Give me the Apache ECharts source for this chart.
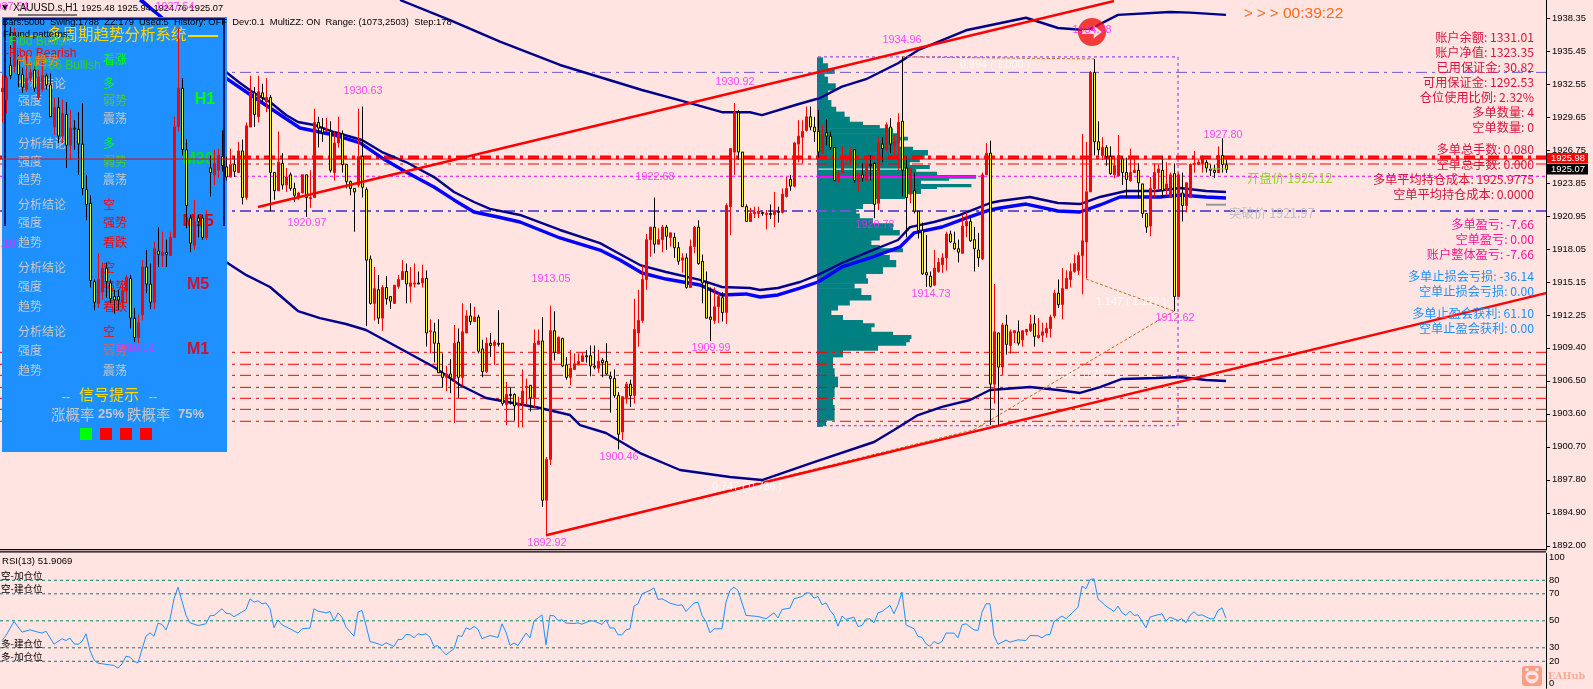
<!DOCTYPE html>
<html>
<head>
<meta charset="utf-8">
<title>XAUUSD.s,H1</title>
<style>html,body{margin:0;padding:0;background:#FFE4E1}#c{width:1593px;height:689px}</style>
<script src="https://cdn.jsdelivr.net/npm/echarts@6/dist/echarts.min.js"></script>
</head>
<body>
<div id="c"></div>
<script>
// ---- candles (index 0..306), prices ----
const opens=[
1931.9,1931.2,1934.2,1934.1,1934.7,1933.4,1932.1,1933.1,1933.8,1931.4,
1932.1,1933.3,1932.5,1928.8,1930.5,1928.0,1929.9,1927.2,1928.7,1928.6,
1927.3,1923.3,1922.1,1915.2,1913.3,1914.3,1916.4,1915.1,1913.9,1913.9,
1913.4,1914.4,1915.5,1912.0,1910.3,1912.3,1916.5,1915.0,1913.4,1917.9,
1917.5,1917.8,1917.5,1919.1,1928.8,1932.2,1926.8,1920.8,1918.4,1920.8,
1920.8,1919.1,1925.2,1924.6,1925.0,1926.2,1925.3,1924.4,1925.5,1924.8,
1926.7,1922.6,1928.8,1931.8,1929.7,1931.8,1931.0,1931.4,1924.8,1923.2,
1925.6,1923.7,1924.6,1923.4,1922.6,1923.0,1924.6,1922.5,1922.6,1929.2,
1928.7,1928.4,1928.4,1924.8,1927.4,1928.2,1925.5,1924.0,1923.4,1923.7,
1926.2,1923.3,1917.2,1913.3,1914.5,1912.0,1914.7,1913.9,1913.3,1914.8,
1915.4,1916.1,1914.8,1915.0,1915.1,1915.1,1915.5,1910.8,1910.8,1909.8,
1907.2,1906.8,1907.1,1906.7,1909.9,1906.8,1910.7,1912.2,1911.7,1912.1,
1909.3,1907.3,1909.8,1909.6,1909.8,1909.8,1904.4,1905.3,1905.3,1904.3,
1904.5,1905.9,1906.1,1905.0,1909.7,1910.0,1896.0,1899.6,1910.9,1908.9,
1910.2,1907.9,1906.8,1907.5,1907.9,1908.2,1908.7,1908.7,1907.8,1907.6,
1908.3,1908.2,1906.9,1906.7,1905.2,1902.0,1905.0,1906.2,1905.2,1910.7,
1911.8,1915.4,1918.9,1920.0,1918.5,1918.9,1920.0,1919.1,1919.1,1918.2,
1917.1,1917.3,1914.7,1918.3,1920.0,1917.0,1915.1,1912.1,1911.8,1913.0,
1913.8,1912.5,1921.8,1926.6,1930.1,1926.6,1921.8,1920.5,1921.2,1921.2,
1921.3,1921.1,1921.2,1921.1,1921.4,1921.3,1922.7,1924.2,1923.6,1927.3,
1927.9,1928.5,1929.7,1928.8,1928.4,1926.5,1928.3,1928.0,1927.0,1924.0,
1924.8,1925.9,1925.8,1926.8,1924.0,1924.6,1924.1,1925.5,1925.6,1922.1,
1927.3,1926.8,1928.8,1927.2,1927.4,1929.3,1925.2,1922.9,1923.2,1921.4,
1919.7,1916.0,1915.7,1914.9,1916.1,1916.7,1917.3,1919.4,1918.6,1918.1,
1917.7,1920.1,1920.5,1918.9,1918.0,1917.2,1924.6,1926.5,1906.2,1910.7,
1907.7,1911.4,1909.6,1910.7,1910.8,1910.1,1910.8,1910.9,1911.5,1910.3,
1910.5,1910.7,1911.1,1912.2,1914.2,1913.2,1914.6,1915.4,1916.1,1916.2,
1917.5,1918.7,1923.1,1933.6,1927.5,1926.3,1927.0,1926.2,1924.6,1924.5,
1926.0,1924.8,1924.1,1924.8,1925.0,1923.8,1921.2,1920.1,1923.4,1924.8,
1925.0,1923.3,1922.6,1924.7,1913.9,1923.0,1921.9,1922.6,1925.5,1925.5,
1925.6,1925.7,1925.1,1925.0,1924.8,1926.3,1925.48];
const closes=[
1932.2,1933.1,1933.3,1937.1,1933.4,1932.3,1933.1,1933.6,1932.2,1933.2,
1933.3,1932.5,1929.7,1930.5,1928.0,1930.0,1927.2,1928.7,1928.6,1927.3,
1923.4,1922.0,1915.3,1913.4,1915.4,1916.4,1915.2,1913.7,1913.6,1913.6,
1914.4,1915.6,1912.0,1910.3,1911.6,1916.5,1915.0,1913.4,1918.1,1917.6,
1917.8,1917.6,1919.1,1928.8,1932.2,1926.8,1921.9,1918.6,1920.5,1920.5,
1919.1,1921.1,1924.8,1925.6,1926.3,1925.4,1924.4,1925.5,1924.9,1926.7,
1922.6,1928.9,1931.8,1929.9,1931.9,1931.4,1931.4,1924.8,1923.2,1925.7,
1923.7,1924.4,1923.4,1922.8,1923.0,1924.6,1922.6,1922.6,1929.2,1928.7,
1928.3,1928.5,1925.0,1927.4,1928.2,1925.5,1924.0,1923.4,1923.1,1926.2,
1923.5,1917.1,1913.3,1914.6,1912.0,1914.7,1913.7,1913.5,1914.9,1915.4,
1916.1,1915.0,1915.1,1915.1,1915.0,1915.5,1910.7,1910.9,1909.8,1907.2,
1906.8,1907.1,1906.8,1909.8,1906.8,1910.8,1912.2,1911.7,1912.1,1909.1,
1907.3,1909.8,1909.6,1909.9,1909.7,1904.5,1905.3,1905.2,1904.3,1904.5,
1905.6,1906.0,1905.0,1909.8,1910.0,1896.0,1899.6,1910.9,1909.0,1910.3,
1907.8,1906.8,1907.6,1908.0,1908.2,1908.7,1908.6,1907.8,1907.7,1908.2,
1908.1,1907.1,1906.7,1905.2,1901.8,1905.1,1906.2,1905.2,1911.0,1911.8,
1915.4,1918.9,1920.0,1918.5,1918.9,1920.0,1919.2,1919.5,1918.2,1917.0,
1917.3,1914.7,1918.3,1920.0,1916.8,1915.1,1912.0,1911.9,1913.0,1913.9,
1912.5,1921.9,1926.9,1930.1,1926.6,1921.8,1920.5,1921.2,1921.3,1921.4,
1921.2,1921.2,1921.1,1921.4,1921.3,1922.9,1923.4,1923.6,1927.4,1928.0,
1928.4,1929.7,1928.8,1928.4,1926.6,1928.2,1928.0,1927.0,1924.1,1924.8,
1926.2,1926.3,1926.6,1924.1,1924.7,1924.3,1925.6,1925.4,1922.0,1927.4,
1926.9,1929.0,1927.3,1927.5,1929.2,1925.0,1922.6,1925.2,1921.4,1919.7,
1915.9,1915.8,1914.8,1916.4,1916.9,1917.3,1919.4,1918.7,1918.1,1917.8,
1920.1,1920.5,1918.8,1918.1,1917.3,1924.6,1926.5,1906.2,1910.8,1907.7,
1911.4,1909.7,1910.8,1910.9,1909.8,1910.9,1911.0,1911.5,1910.4,1910.5,
1910.8,1911.1,1912.1,1914.2,1913.2,1914.6,1915.5,1916.1,1916.8,1917.5,
1918.8,1923.1,1933.6,1927.5,1926.8,1927.0,1926.2,1924.7,1925.4,1926.3,
1924.8,1924.2,1924.8,1925.0,1923.9,1921.2,1920.0,1923.4,1924.8,1925.1,
1923.2,1923.8,1924.6,1913.9,1924.6,1921.9,1923.9,1925.5,1925.6,1925.7,
1926.2,1925.2,1925.0,1924.8,1926.3,1925.5,1925.07];
const lows=[
1929.2,1930.0,1933.0,1933.6,1932.3,1931.8,1931.9,1932.8,1931.9,1931.2,
1931.9,1932.1,1929.7,1928.1,1927.4,1927.4,1925.2,1925.9,1926.8,1924.6,
1922.8,1920.6,1914.7,1912.7,1912.9,1913.6,1913.8,1913.3,1912.4,1912.7,
1912.9,1913.3,1911.1,1909.9,1909.8,1911.8,1914.2,1912.8,1912.8,1916.5,
1916.5,1916.5,1917.5,1919.1,1928.4,1926.3,1919.9,1917.8,1918.0,1919.1,
1918.9,1918.9,1922.7,1923.7,1924.3,1924.9,1924.1,1924.4,1924.4,1924.8,
1922.0,1922.4,1928.8,1928.8,1929.2,1931.0,1930.1,1921.4,1922.4,1923.2,
1923.3,1923.1,1923.2,1922.2,1922.4,1923.0,1920.9,1921.7,1922.6,1927.0,
1927.5,1928.4,1924.8,1924.1,1927.0,1924.8,1923.4,1922.8,1919.6,1923.5,
1922.6,1911.3,1913.2,1911.8,1911.5,1910.9,1913.2,1912.8,1913.3,1914.6,
1915.4,1913.3,1913.4,1914.7,1915.0,1914.7,1909.5,1908.9,1908.1,1907.2,
1905.9,1905.6,1905.4,1902.8,1905.0,1906.0,1910.7,1911.4,1911.7,1908.9,
1906.8,1907.2,1908.6,1907.9,1909.5,1904.3,1902.6,1904.4,1903.0,1902.4,
1902.4,1904.4,1903.8,1904.2,1909.7,1895.4,1892.92,1899.1,1908.3,1908.9,
1907.7,1906.6,1906.1,1907.5,1907.9,1908.2,1908.1,1906.9,1907.5,1907.2,
1906.8,1907.0,1903.7,1905.0,1900.46,1901.3,1904.5,1904.2,1904.5,1909.5,
1911.6,1914.5,1917.4,1917.7,1918.5,1917.8,1918.0,1918.3,1917.3,1916.7,
1916.0,1914.6,1914.7,1917.7,1916.7,1913.3,1912.0,1909.99,1911.5,1911.6,
1911.7,1911.5,1919.3,1924.6,1925.9,1921.8,1920.5,1920.5,1920.8,1920.8,
1921.0,1919.8,1920.7,1920.0,1920.4,1921.2,1922.6,1923.2,1923.5,1925.7,
1925.6,1928.4,1928.5,1927.5,1926.1,1926.4,1927.2,1926.8,1924.0,1923.9,
1924.8,1925.7,1925.5,1923.9,1923.1,1924.0,1924.1,1924.1,1920.78,1921.5,
1925.7,1926.6,1926.5,1926.2,1925.0,1922.7,1919.1,1922.1,1921.2,1919.0,
1915.8,1914.73,1914.7,1914.9,1916.0,1916.0,1916.2,1918.6,1918.0,1916.9,
1917.7,1919.1,1918.7,1916.1,1916.5,1917.1,1924.6,1902.6,1904.5,1902.6,
1907.0,1908.8,1908.9,1909.8,1909.6,1909.5,1910.5,1910.8,1909.5,1910.2,
1909.9,1910.3,1910.3,1912.0,1912.9,1911.9,1914.6,1914.7,1916.0,1915.8,
1914.1,1915.5,1923.1,1926.3,1926.3,1925.9,1925.4,1924.6,1924.3,1924.5,
1923.7,1922.6,1924.0,1924.8,1922.5,1920.8,1919.5,1919.2,1922.6,1923.3,
1922.6,1922.8,1922.6,1912.62,1913.9,1920.5,1921.3,1922.6,1924.8,1925.5,
1924.8,1924.8,1924.5,1924.3,1924.8,1924.8,1924.76];
const highs=[
1933.4,1933.3,1937.6,1937.5,1935.1,1934.0,1935.1,1934.5,1934.2,1933.8,
1934.7,1933.5,1933.5,1931.4,1931.4,1931.2,1931.0,1930.3,1929.4,1930.1,
1930.9,1924.6,1922.8,1915.4,1917.7,1916.9,1916.9,1915.4,1914.5,1914.5,
1914.9,1915.8,1915.8,1912.9,1912.3,1917.1,1918.0,1916.8,1918.7,1920.0,
1919.6,1918.9,1919.6,1929.7,1937.5,1933.1,1927.7,1921.1,1922.4,1921.1,
1921.1,1921.5,1926.3,1926.8,1926.9,1928.5,1926.2,1926.9,1926.2,1927.5,
1927.7,1929.2,1933.3,1932.3,1933.3,1932.6,1933.1,1931.6,1924.8,1928.4,
1926.5,1925.2,1924.8,1923.9,1923.1,1924.6,1924.6,1925.0,1930.4,1929.7,
1929.6,1929.6,1929.3,1928.4,1929.7,1928.5,1925.5,1924.1,1923.4,1930.4,
1930.6,1923.5,1917.5,1916.5,1915.8,1914.9,1915.7,1913.9,1914.9,1915.8,
1917.1,1916.8,1916.5,1916.8,1916.1,1916.7,1916.2,1911.9,1911.6,1911.9,
1908.9,1907.8,1908.4,1911.4,1911.1,1913.3,1912.7,1913.3,1913.0,1912.3,
1910.1,1910.3,1910.7,1910.1,1912.7,1909.8,1906.4,1905.9,1905.4,1905.1,
1907.5,1906.7,1906.1,1911.0,1911.0,1912.1,1899.8,1913.1,1912.6,1910.4,
1910.3,1908.6,1909.2,1908.9,1908.9,1909.0,1909.2,1909.6,1909.6,1909.2,
1908.5,1909.8,1907.3,1907.5,1905.5,1905.1,1906.4,1906.6,1913.7,1914.5,
1916.7,1919.4,1920.0,1922.6,1919.9,1920.2,1920.2,1919.5,1919.5,1918.7,
1917.7,1917.7,1918.9,1920.1,1920.6,1917.6,1916.1,1914.7,1914.7,1914.2,
1914.3,1922.1,1926.9,1930.9,1930.3,1926.6,1922.0,1921.7,1921.8,1921.8,
1921.3,1921.5,1922.0,1923.1,1921.8,1923.4,1924.4,1924.6,1927.5,1929.4,
1929.4,1930.6,1930.6,1929.7,1930.3,1929.0,1929.5,1928.4,1927.0,1924.9,
1927.1,1926.3,1927.0,1926.8,1924.8,1925.6,1926.2,1926.3,1925.7,1927.9,
1927.9,1929.2,1929.6,1928.1,1930.0,1934.96,1926.2,1925.2,1924.8,1921.4,
1920.4,1919.3,1916.1,1918.0,1917.3,1917.7,1919.6,1919.7,1919.6,1918.9,
1921.1,1921.3,1920.9,1920.0,1919.5,1924.8,1927.4,1927.6,1915.0,1910.7,
1911.6,1912.3,1911.0,1910.9,1911.8,1910.9,1911.0,1912.3,1912.3,1912.0,
1911.6,1911.6,1912.3,1914.5,1915.4,1916.4,1916.2,1916.8,1917.6,1917.8,
1928.2,1927.5,1933.7,1934.78,1929.3,1927.9,1927.2,1927.1,1926.2,1928.1,
1926.2,1926.1,1926.9,1926.1,1925.6,1923.8,1921.2,1924.4,1925.6,1925.5,
1926.2,1925.7,1924.8,1925.6,1924.8,1924.8,1923.9,1925.6,1926.7,1925.9,
1926.3,1925.9,1925.5,1925.5,1927.1,1927.80,1925.94];

// ---- bands: [bar index, price] ----
const upperBand=[[99.5,1939.96],[112,1938.2],[124.5,1936.3],[139.5,1934.25],[160,1932.05],[170,1931.1],[180,1930.1],[187,1930.1],[190,1929.85],[199,1930.8],[204.5,1931.35],[210,1932.35],[216,1933.0],[224,1934.4],[229,1935.55],[241,1937.3],[256,1938.4],[264,1937.5],[271.5,1937.3],[279,1938.65],[292,1938.9],[297,1938.85],[306,1938.65]];
const midNavy=[[35,1939.96],[40,1938.4],[56,1933.63],[59.5,1932.67],[63,1931.79],[67,1931.0],[71,1929.85],[74,1929.24],[78,1928.98],[83,1928.36],[90,1927.66],[95,1926.6],[101,1925.72],[108,1924.4],[113,1923.09],[118,1922.21],[122,1921.6],[129.5,1921.07],[139.5,1919.75],[149.5,1918.6],[154,1917.73],[159.5,1916.67],[166,1916.06],[174.5,1915.36],[180,1914.74],[187,1914.65],[189.5,1914.48],[194,1914.65],[199.5,1915.18],[204,1915.8],[210,1916.85],[216,1917.73],[224,1918.87],[227,1920.0],[233,1920.45],[239.5,1921.07],[247,1922.12],[249.5,1922.3],[257,1922.65],[264,1922.12],[269.5,1922.03],[274.5,1922.65],[281,1923.18],[288.5,1923.18],[294.5,1923.44],[301,1923.18],[306,1923.09]];
const midBlue=[[34.5,1939.96],[39.5,1938.55],[56,1933.1],[61,1931.9],[67,1930.47],[74.5,1928.71],[83,1928.1],[89.5,1927.4],[95,1926.08],[101,1924.85],[108,1923.53],[113,1922.39],[118,1921.33],[124,1920.89],[129.5,1920.45],[139.5,1919.05],[149.5,1917.99],[154.5,1917.11],[160,1915.97],[166,1915.44],[174.5,1914.92],[180,1914.04],[186,1914.13],[189.5,1913.86],[194,1914.04],[199.5,1914.65],[204,1915.18],[210,1916.5],[217,1917.29],[224.5,1918.26],[228,1919.49],[235,1920.01],[241,1920.8],[247,1921.51],[249.5,1921.68],[256,1922.03],[264,1921.42],[269.5,1921.33],[274.5,1921.95],[279.5,1922.65],[289.5,1922.65],[294.5,1922.83],[301,1922.65],[306,1922.56]];
const lowerBand=[[56,1916.94],[61,1915.8],[67,1914.74],[74,1912.63],[79.5,1912.0],[86,1911.49],[91,1910.96],[97,1909.82],[108,1907.71],[114.5,1906.13],[121,1904.99],[134.5,1904.11],[142,1903.49],[144.5,1902.6],[151,1901.91],[159.5,1900.15],[169.5,1898.66],[182,1898.05],[190,1897.78],[203,1899.36],[218,1901.12],[223,1902.18],[229,1903.49],[235,1904.2],[242,1904.81],[247,1905.69],[257,1905.95],[264,1905.69],[269.5,1905.43],[274.5,1905.95],[280,1906.66],[288.5,1906.75],[294.5,1906.83],[301,1906.57],[306,1906.48]];

// ---- trend lines and fibonacci legs ----
const upperTrend=[[64,1921.77],[278,1939.87]];
const lowerTrend=[[136,1892.92],[386,1914.2]];
const fibLegs=[
 [[225,1934.96],[273,1934.78]],
 [[271,1915.44],[293,1912.62]],
 [[243,1902.2],[293,1912.62]],
 [[136,1892.92],[243,1902.2]]];
const profileBox=[[204,1934.96],[294,1934.96],[294,1902.55],[204,1902.55],[204,1934.96]];

// ---- horizontal levels ----
const redLevels=[1909.0,1907.95,1906.98,1905.92,1904.96,1903.99,1902.94];
const redTopLevels=[1926.2,1926.05,1925.55];
const slateLevelThin=1933.6, slateLevelThick=1921.42, magentaLevel=1924.47;
const askPrice=1925.98, bidPrice=1925.07;
const openPrice=1925.12, breakPrice=1921.97;

// ---- volume profile: level price and its length in bars ----
const profilePrices=[1934.92,1934.4,1933.96,1933.52,1933.22,1932.64,1932.05,1931.17,1930.58,1930.15,1929.71,1929.27,1928.98,1928.69,1928.25,1927.95,1927.66,1927.07,1926.78,1926.34,1926.05,1925.75,1925.46,1925.17,1924.87,1924.58,1924.3,1924.14,1923.8,1923.55,1923.41,1922.97,1922.53,1922.09,1921.65,1921.21,1920.78,1920.34,1919.75,1919.31,1918.87,1918.43,1918.14,1917.84,1917.55,1917.11,1916.52,1915.94,1915.5,1915.07,1914.63,1914.04,1913.6,1913.16,1912.72,1912.28,1911.84,1911.55,1911.25,1910.81,1910.52,1910.23,1909.93,1909.64,1909.2,1908.61,1908.18,1907.6,1907.16,1906.86,1905.98,1905.1,1904.37,1903.64,1903.05,1902.6];
const profileVolumes=[1.5,2.75,4.4,1.9,2.75,4.7,2.75,3.6,4.8,6.9,8.2,11.5,15.7,19,20.7,22.75,20.7,24,27.75,26.9,25.7,23.2,28.2,24.8,30,39.8,33,26,38.6,30,26,22,14.8,11.5,9.8,10.7,14,19,20.7,15.7,13.6,15.7,21.5,16.5,18.2,19.8,16.5,12.3,12.75,9.4,11.1,13.6,8.2,5.25,3.6,6.5,11.5,14.4,13.6,19,23.6,23.2,22.3,15.25,6.5,4,4,4.4,4.4,5.25,4.4,4,4.4,4.4,2.3,1.5];

// ---- RSI(13) ----
const rsiIndex=[0,1,3,5,7,9,10,11,13,15,16,17,18,19,20,21,22,23,24,28,29,30,31,32,33,34,36,37,38,39,40,41,42,43,44,46,47,49,51,52,53,55,56,57,58,61,62,63,64,65,66,67,68,69,70,72,74,75,77,78,79,81,82,83,84,85,86,88,89,90,91,92,94,95,96,98,99,100,101,102,103,104,105,106,107,108,109,110,111,113,114,115,116,117,118,119,120,122,124,125,126,127,128,129,131,
132,133,134,135,136,137,138,139,140,141,143,144,145,147,148,150,151,152,153,154,155,156,157,158,159,160,162,163,164,165,167,169,170,171,173,174,175,176,177,178,180,181,182,183,184,186,189,191,193,194,195,197,198,200,201,202,203,204,205,206,207,208,209,210,211,213,214,215,216,217,218,219,220,222,223,224,225,226,228,229,230,231,232,233,234,235,236,238,239,240,241,243,244,245,246,247,248,249,251,252,254,256,257,259,260,261,262,263,264,
265,266,269,270,271,272,273,274,276,278,279,280,281,282,283,284,286,287,288,290,291,292,294,295,296,297,298,299,300,302,303,304,305,306];
const rsiValues=[35.4,39.1,49.5,41.6,43.3,41.6,40.9,42.3,32.7,36.7,35.4,37.2,33.0,32.5,34.7,40.4,28.0,21.1,18.6,16.9,14.9,18.1,23.8,23.1,19.9,18.9,38.6,41.1,38.6,48.3,47.3,43.3,51.0,66.3,74.9,54.0,48.5,46.5,47.8,53.7,54.0,58.9,55.7,55.2,53.0,58.4,66.3,63.8,64.8,62.6,63.3,58.9,44.8,50.7,47.0,44.1,40.9,44.1,44.6,58.9,57.2,55.9,56.9,50.0,55.9,52.7,45.3,38.6,56.4,57.7,46.5,34.7,33.0,31.7,33.7,31.0,36.2,36.2,39.9,39.6,37.4,40.4,39.6,40.4,37.9,31.0,31.5,28.0,24.8,29.3,39.1,38.4,44.8,43.6,45.8,43.6,36.7,39.1,37.7,47.8,41.6,31.7,33.5,31.7,40.9,
37.4,50.0,52.0,54.4,32.2,54.0,53.7,50.2,50.7,48.3,48.0,48.5,47.5,50.0,49.8,47.3,50.7,44.6,44.8,39.6,39.6,43.3,44.1,60.9,62.6,70.0,72.5,74.4,65.8,66.3,63.1,61.4,61.9,56.9,63.1,63.8,54.0,49.5,41.1,44.1,44.1,63.8,72.5,74.9,72.5,54.0,53.2,51.5,55.9,52.2,58.4,59.4,66.3,68.0,70.7,70.5,66.8,68.0,61.9,63.3,57.7,54.0,46.0,53.5,51.0,52.7,45.8,46.5,51.2,51.5,48.5,55.9,56.9,61.4,55.2,61.9,71.2,47.0,44.1,38.4,37.7,33.0,31.0,34.7,33.0,34.7,40.9,40.9,37.4,47.0,47.8,43.3,42.8,56.4,62.6,62.6,39.1,32.5,35.7,34.2,35.9,35.4,39.1,38.9,37.4,39.6,39.9,49.5,51.5,
53.5,51.5,60.1,75.7,73.7,80.6,81.1,66.3,60.9,56.9,60.9,55.9,54.0,57.2,54.0,54.4,44.8,52.7,53.7,55.2,49.8,52.7,50.2,51.5,48.5,54.0,56.7,54.0,54.4,51.5,51.5,57.7,59.6,51.9];
const rsiLevels=[80,70,50,30,20];

// ---- axis ticks ----
const priceTicks=[1938.35,1935.45,1932.55,1929.65,1926.75,1923.85,1920.95,1918.05,1915.15,1912.25,1909.40,1906.50,1903.60,1900.70,1897.80,1894.90,1892.00];
const rsiTicks=[0,20,30,50,70,80,100];
const slotCount=387;
const categories=Array.from({length:slotCount},(_,i)=>String(i));

// ---- zigzag and fibonacci texts: [bar index, price, text] ----
const zigzagLabels=[[1.75,1939.34,'1937.54'],[43.25,1939.34,'1937.54'],[225,1936.45,'1934.96'],[183.25,1932.75,'1930.92'],[90.25,1931.96,'1930.63'],[163.25,1924.41,'1922.68'],[76.25,1920.36,'1920.97'],[218.25,1920.19,'1920.78'],[137.25,1915.44,'1913.05'],[232.25,1914.13,'1914.73'],[293.25,1912.02,'1912.62'],[33.25,1909.38,'1910.02'],[177.25,1909.38,'1909.99'],[154.25,1899.80,'1900.46'],[136.25,1892.24,'1892.92'],[305.25,1928.1,'1927.80'],[-1.5,1918.52,'1921.10'],[272.5,1937.32,'1934.78']];
const fibLabels=[[248.25,1934.25,'0.994 ( 1.000 )'],[282.25,1913.42,'1.147 ( 1.127 )'],[270,1907.0,'0.689 ( 0.707 )'],[186.25,1897.17,'0.747 ( 0.786 )']];
const signalPoint=[272.5,1937.15];

// ---- texts ----
const accountRows=[
 ['账户余额: 1331.01',37,'#DC143C'],['账户净值: 1323.35',52,'#DC143C'],['已用保证金: 30.82',67,'#DC143C'],['可用保证金: 1292.53',82,'#DC143C'],['仓位使用比例: 2.32%',97,'#DC143C'],['多单数量: 4',112,'#DC143C'],['空单数量: 0',127,'#DC143C'],
 ['多单总手数: 0.080',149,'#DC143C'],['空单总手数: 0.000',164,'#DC143C'],['多单平均持仓成本: 1925.9775',179,'#DC143C'],['空单平均持仓成本: 0.0000',194,'#DC143C'],
 ['多单盈亏: -7.66',224,'#FF1493'],['空单盈亏: 0.00',239,'#FF1493'],['账户整体盈亏: -7.66',254,'#FF1493'],
 ['多单止损会亏损: -36.14',276.5,'#1E90FF'],['空单止损会亏损: 0.00',291,'#1E90FF'],['多单止盈会获利: 61.10',313,'#1E90FF'],['空单止盈会获利: 0.00',328,'#1E90FF']];
const panelRows=[
 ['分析结论',83,'多','#00FF00'],['强度',100,'弱势','#55C832'],['趋势',118,'震荡','#C8C8C8'],
 ['分析结论',143,'多','#00FF00'],['强度',161,'弱势','#55C832'],['趋势',179,'震荡','#C8C8C8'],
 ['分析结论',204,'空','#FF0000'],['强度',222,'强势','#FF0000'],['趋势',242,'看跌','#FF0000'],
 ['分析结论',267,'空','#FF0000'],['强度',286,'强势','#FF0000'],['趋势',306,'看跌','#FF0000'],
 ['分析结论',331,'空','#FF0000'],['强度',350,'弱势','#F06040'],['趋势',370,'震荡','#C8C8C8']];
const frameLabels=[['H1',205,100,'#00FF00'],['M30',198,160,'#00E020'],['M15',198,222,'#E00000'],['M5',198,285,'#D01030'],['M1',198,350,'#D01030']];

const MONO='"Noto Sans CJK SC","Liberation Sans",sans-serif';
const SANS='"Liberation Sans",sans-serif';
const PANEL_Z=3, TEXT_Z=8;

function txt(text,x,y,fill,font,align,z){
  return {type:'text',z:z===undefined?TEXT_Z:z,silent:true,style:{text:text,x:x,y:y,fill:fill,font:font,align:align||'left',verticalAlign:'middle',textAlign:align||'left',textVerticalAlign:'middle'}};
}
function box(x,y,w,h,fill,z){
  return {type:'rect',z:z===undefined?PANEL_Z:z,silent:true,shape:{x:x,y:y,width:w,height:h},style:{fill:fill}};
}

const elements=[];
// left panel
elements.push(box(2,17,225,435,'#1E90FF',PANEL_Z));
elements.push(box(3,18,222,2,'#0A1A70',PANEL_Z+0.1));
elements.push(box(4,18,2,208,'#0A1A70',PANEL_Z+0.1));
elements.push(box(223,18,2,208,'#0A1A70',PANEL_Z+0.1));
elements.push(box(18,14,59,2,'#777777',PANEL_Z+0.1));
elements.push(box(22,35,24,2,'#D8B400',PANEL_Z+0.1));
elements.push(box(188,35,30,2,'#FFD700',PANEL_Z+0.1));
elements.push(txt('多周期趋势分析系统',47,34,'#FFD700','15.5px '+MONO,'left',PANEL_Z+0.2));
elements.push(txt('看涨',103,59,'#00FF00','12px '+MONO,'left',PANEL_Z+0.2));
panelRows.forEach(r=>{
  elements.push(txt(r[0],18,r[1],'#C8C8C8','12px '+MONO,'left',PANEL_Z+0.2));
  elements.push(txt(r[2],103,r[1],r[3],'12px '+MONO,'left',PANEL_Z+0.2));
});
frameLabels.forEach(f=>elements.push(txt(f[0],f[1],f[2],f[3],'bold 16px '+SANS,'center',PANEL_Z+0.2)));
elements.push(txt('--',66,397,'#FFD700','13px '+SANS,'center',PANEL_Z+0.2));
elements.push(txt('信号提示',109,394,'#FFD700','15px '+MONO,'center',PANEL_Z+0.2));
elements.push(txt('--',153,397,'#FFD700','13px '+SANS,'center',PANEL_Z+0.2));
elements.push(txt('涨概率',51,414,'#C8C8C8','14.5px '+MONO,'left',PANEL_Z+0.2));
elements.push(txt('25%',98,414,'#C8C8C8','bold 13px '+SANS,'left',PANEL_Z+0.2));
elements.push(txt('跌概率',127,414,'#C8C8C8','14.5px '+MONO,'left',PANEL_Z+0.2));
elements.push(txt('75%',178,414,'#C8C8C8','bold 13px '+SANS,'left',PANEL_Z+0.2));
elements.push(box(80,428,12,12,'#00FF00',PANEL_Z+0.2));
elements.push(box(100,428,12,12,'#FF0000',PANEL_Z+0.2));
elements.push(box(120,428,12,12,'#FF0000',PANEL_Z+0.2));
elements.push(box(140,428,12,12,'#FF0000',PANEL_Z+0.2));
// header and pattern text over everything
elements.push(txt('▼',2,8,'#000000','8px "DejaVu Sans"'));
elements.push(txt('XAUUSD.s,H1',13,8,'#000000','10px '+SANS));
elements.push(txt('1925.48 1925.94 1924.76 1925.07',81,8,'#000000','9.3px '+SANS));
elements.push(txt('Bars:5000  Swing:1788  ZZ:179  Used:5  History: OFF  Dev:0.1  MultiZZ: ON  Range: (1073,2503)  Step:178',2,22,'#000000','9.4px '+SANS));
elements.push(txt('Found patterns:',3,34,'#000000','9.6px '+SANS));
elements.push(txt('-Fibo Bullish',5,42,'#32CD32','12px '+SANS));
elements.push(txt('-Fibo Bearish',5,54,'#FF0000','12px '+SANS));
elements.push(txt('-Hit 786 Bullish',20,66,'#32CD32','12px '+SANS));
elements.push(txt('H1 趋势',17,60,'#FF8C00','12px '+MONO));
// countdown, account block, notes
elements.push(txt('> > >',1244,14,'#FF6A1A','15px '+SANS));
elements.push(txt('00:39:22',1283,14,'#FF6A1A','15.5px '+SANS));
accountRows.forEach(r=>elements.push(txt(r[0],1534,r[1],r[2],'12.2px '+MONO,'right')));
elements.push(txt('开盘价 '+openPrice.toFixed(2),1247,178,'#9ACD32','12.5px '+MONO));
elements.push(txt('突破价 '+breakPrice.toFixed(2),1229,213,'#C0C0C0','12.5px '+MONO));
// current price tags
elements.push(box(1547,153,41,10.5,'#FF0000',9));
elements.push(box(1547,164,41,10.5,'#000000',9));
elements.push(txt(askPrice.toFixed(2),1551,158.5,'#FFFFFF','9.4px '+SANS,'left',10));
elements.push(txt(bidPrice.toFixed(2),1551,169.5,'#FFFFFF','9.4px '+SANS,'left',10));
// pane separator
elements.push(box(0,549,1546,1.3,'#000000',9));
elements.push(box(0,551.2,1546,1.3,'#000000',9));
// RSI pane texts
elements.push(txt('RSI(13) 51.9069',2,561,'#000000','9.6px '+SANS));
elements.push(txt('空-加仓位',1,575,'#000000','9.6px '+MONO));
elements.push(txt('空-建仓位',1,588,'#000000','9.6px '+MONO));
elements.push(txt('多-建仓位',1,643,'#000000','9.6px '+MONO));
elements.push(txt('多-加仓位',1,656,'#000000','9.6px '+MONO));
// watermark
elements.push({type:'rect',z:TEXT_Z,silent:true,shape:{x:1522,y:666,width:20,height:20,r:3},style:{fill:'#FF9C84'}});
elements.push({type:'circle',z:TEXT_Z+0.1,silent:true,shape:{cx:1532,cy:677,r:6.5},style:{fill:'#FFE4E1'}});
elements.push({type:'circle',z:TEXT_Z+0.1,silent:true,shape:{cx:1527,cy:669.5,r:1.8},style:{fill:'#FFE4E1'}});
elements.push({type:'circle',z:TEXT_Z+0.1,silent:true,shape:{cx:1537,cy:669.5,r:1.8},style:{fill:'#FFE4E1'}});
elements.push({type:'rect',z:TEXT_Z+0.2,silent:true,shape:{x:1528,y:675,width:8,height:4,r:2},style:{fill:'#FF9C84'}});
elements.push(txt('EAHub',1548,677,'#FFA894','bold 9.5px "DejaVu Serif",'+SANS,'left',TEXT_Z));

const DASHDOT=[11,5,3,5];
function poly(name,points,color,width,z,dash){
  return {name:name,type:'line',xAxisIndex:1,yAxisIndex:0,data:points,symbol:'none',silent:true,z:z,
    lineStyle:{color:color,width:width,type:dash||'solid'},animation:false,clip:true};
}
function level(name,price,color,width,z,dash){
  return poly(name,[[-0.5,price],[386,price]],color,width,z,dash);
}
const series=[];
// volume profile, lowest layer
series.push({name:'profile',type:'custom',xAxisIndex:1,yAxisIndex:0,z:1,silent:true,animation:false,clip:true,
  encode:{x:0,y:1},
  data:profilePrices.map((p,i)=>[203.75,p,profileVolumes[i]]),
  renderItem:function(params,api){
    const i=params.dataIndex;
    const next=i+1<profilePrices.length?profilePrices[i+1]:profilePrices[i]-0.1;
    const a=api.coord([203.75,profilePrices[i]]);
    const b=api.coord([203.75+profileVolumes[i],next]);
    return {type:'rect',shape:{x:a[0],y:a[1],width:b[0]-a[0],height:b[1]-a[1]+0.6},style:{fill:'#008080'}};
  }});
// levels beneath the panel
redLevels.forEach((p,i)=>series.push(level('red'+i,p,'#FF0000',1,2,DASHDOT)));
series.push(level('redTop0',redTopLevels[0],'#FF0000',2,2,DASHDOT));
series.push(level('redTop1',redTopLevels[1],'#FF0000',2,2,DASHDOT));
series.push(level('redTop2',redTopLevels[2],'#FF0000',1,2,DASHDOT));
series.push(level('slateThin',slateLevelThin,'#6A5ACD',1,2,DASHDOT));
series.push(level('slateThick',slateLevelThick,'#6A5ACD',2,2,DASHDOT));
series.push(level('magenta',magentaLevel,'#FF00FF',1,2,[3,3]));
// bands
series.push(poly('upperBand',upperBand,'#00008B',2.4,2.5));
series.push(poly('midNavy',midNavy,'#00008B',2.4,2.5));
series.push(poly('midBlue',midBlue,'#0000FF',3.4,2.6));
series.push(poly('lowerBand',lowerBand,'#00008B',2.4,2.5));
// profile overlays
series.push(poly('poc',[[204,1924.4],[243.5,1924.4]],'#FF00FF',2,2.7));
series.push(poly('pocLight',[[204,1925.1],[226,1925.1]],'#FFFFFF',1,2.7));
series.push(poly('box',profileBox,'#8A2BE2',1,2.7,[3,3]));
fibLegs.forEach((l,i)=>series.push(poly('fib'+i,l,'#D2691E',1,2.7,[3,2])));
// candles above the panel, on their own half-pixel grid so bodies stay crisp
series.push({name:'XAUUSD.s,H1',type:'candlestick',xAxisIndex:0,yAxisIndex:2,z:5,silent:true,animation:false,barWidth:2,
  itemStyle:{color:'#FF0000',color0:'#FFFF00',borderColor:'#FF0000',borderColor0:'#000000',borderWidth:1},
  data:opens.map((o,i)=>[o,closes[i],lows[i],highs[i]])});
// trend lines, ask line, short notes
series.push(poly('upperTrend',upperTrend,'#FF0000',2.5,6));
series.push(poly('lowerTrend',lowerTrend,'#FF0000',2.5,6));
series.push(level('ask',askPrice,'#FF0000',1,6));
series.push(poly('breakMark',[[301,breakPrice],[306,breakPrice]],'#999999',2,6));
series.push(poly('openMark',[[302,openPrice],[306,openPrice]],'#9ACD32',1,6));
// signal
series.push({name:'signal',type:'scatter',xAxisIndex:1,yAxisIndex:0,z:7,silent:true,animation:false,symbol:'circle',symbolSize:28,
  itemStyle:{color:'#F01010'},data:[signalPoint]});
series.push({name:'signalArrow',type:'scatter',xAxisIndex:1,yAxisIndex:0,z:7.1,silent:true,animation:false,
  symbol:'path://M0 7H14V0L24 10L14 20V13H0Z',symbolSize:[20,13],itemStyle:{color:'#FFFFFF'},data:[signalPoint]});
// text marks tied to bars and prices
function labelSeries(name,rows,color,font){
  return {name:name,type:'scatter',xAxisIndex:1,yAxisIndex:0,z:9,silent:true,animation:false,clip:false,symbolSize:1,
    itemStyle:{color:'rgba(0,0,0,0)'},
    data:rows.map(r=>({value:[r[0],r[1]],text:r[2]})),
    label:{show:true,position:'inside',color:color,fontFamily:SANS,fontSize:font,
      formatter:p=>rows[p.dataIndex][2]}};
}
series.push(labelSeries('zigzag',zigzagLabels,'#FF22FF',10.8));
series.push(labelSeries('fib',fibLabels,'#FFFFFF',10.8));
// RSI
rsiLevels.forEach((v,i)=>series.push({name:'rsiLevel'+i,type:'line',xAxisIndex:2,yAxisIndex:1,symbol:'none',silent:true,animation:false,z:2,
  data:[[-0.5,v],[386,v]],lineStyle:{color:'#008080',width:1,type:[3,3]}}));
series.push({name:'RSI(13)',type:'line',xAxisIndex:2,yAxisIndex:1,symbol:'none',silent:true,animation:false,z:3,
  data:rsiIndex.map((x,i)=>[x,rsiValues[i]]),lineStyle:{color:'#1E90FF',width:1}});

const chart=echarts.init(document.getElementById('c'),null,{renderer:'canvas'});
chart.setOption({
  animation:false,
  backgroundColor:'#FFE4E1',
  tooltip:{show:false},
  grid:[{left:0,top:0,width:1548,height:550},{left:0,top:553.3,width:1548,height:135},{left:0.5,top:0,width:1548,height:550}],
  xAxis:[
    {type:'category',gridIndex:2,data:categories,show:false},
    {type:'value',gridIndex:0,min:-0.5,max:386.5,show:false},
    {type:'value',gridIndex:1,min:-0.5,max:386.5,show:false}
  ],
  yAxis:[
    {type:'value',gridIndex:0,position:'right',offset:-2,min:1891.63,max:1939.96,scale:true,
      axisLine:{show:true,onZero:false,lineStyle:{color:'#000000',width:1}},
      axisTick:{show:true,length:4,inside:false,customValues:priceTicks,lineStyle:{color:'#000000'}},
      axisLabel:{show:true,margin:6,color:'#000000',fontFamily:SANS,fontSize:9.4,customValues:priceTicks,formatter:v=>v.toFixed(2)},
      splitLine:{show:false}},
    {type:'value',gridIndex:1,position:'right',offset:-2,min:0,max:100,
      axisLine:{show:true,onZero:false,lineStyle:{color:'#000000',width:1}},
      axisTick:{show:false},
      axisLabel:{show:true,margin:3,color:'#000000',fontFamily:SANS,fontSize:9.4,customValues:rsiTicks,verticalAlignMinLabel:'bottom',verticalAlignMaxLabel:'top'},
      splitLine:{show:false}},
    {type:'value',gridIndex:2,min:1891.63,max:1939.96,scale:true,show:false}
  ],
  graphic:{elements:elements},
  series:series
});
</script>
</body>
</html>
